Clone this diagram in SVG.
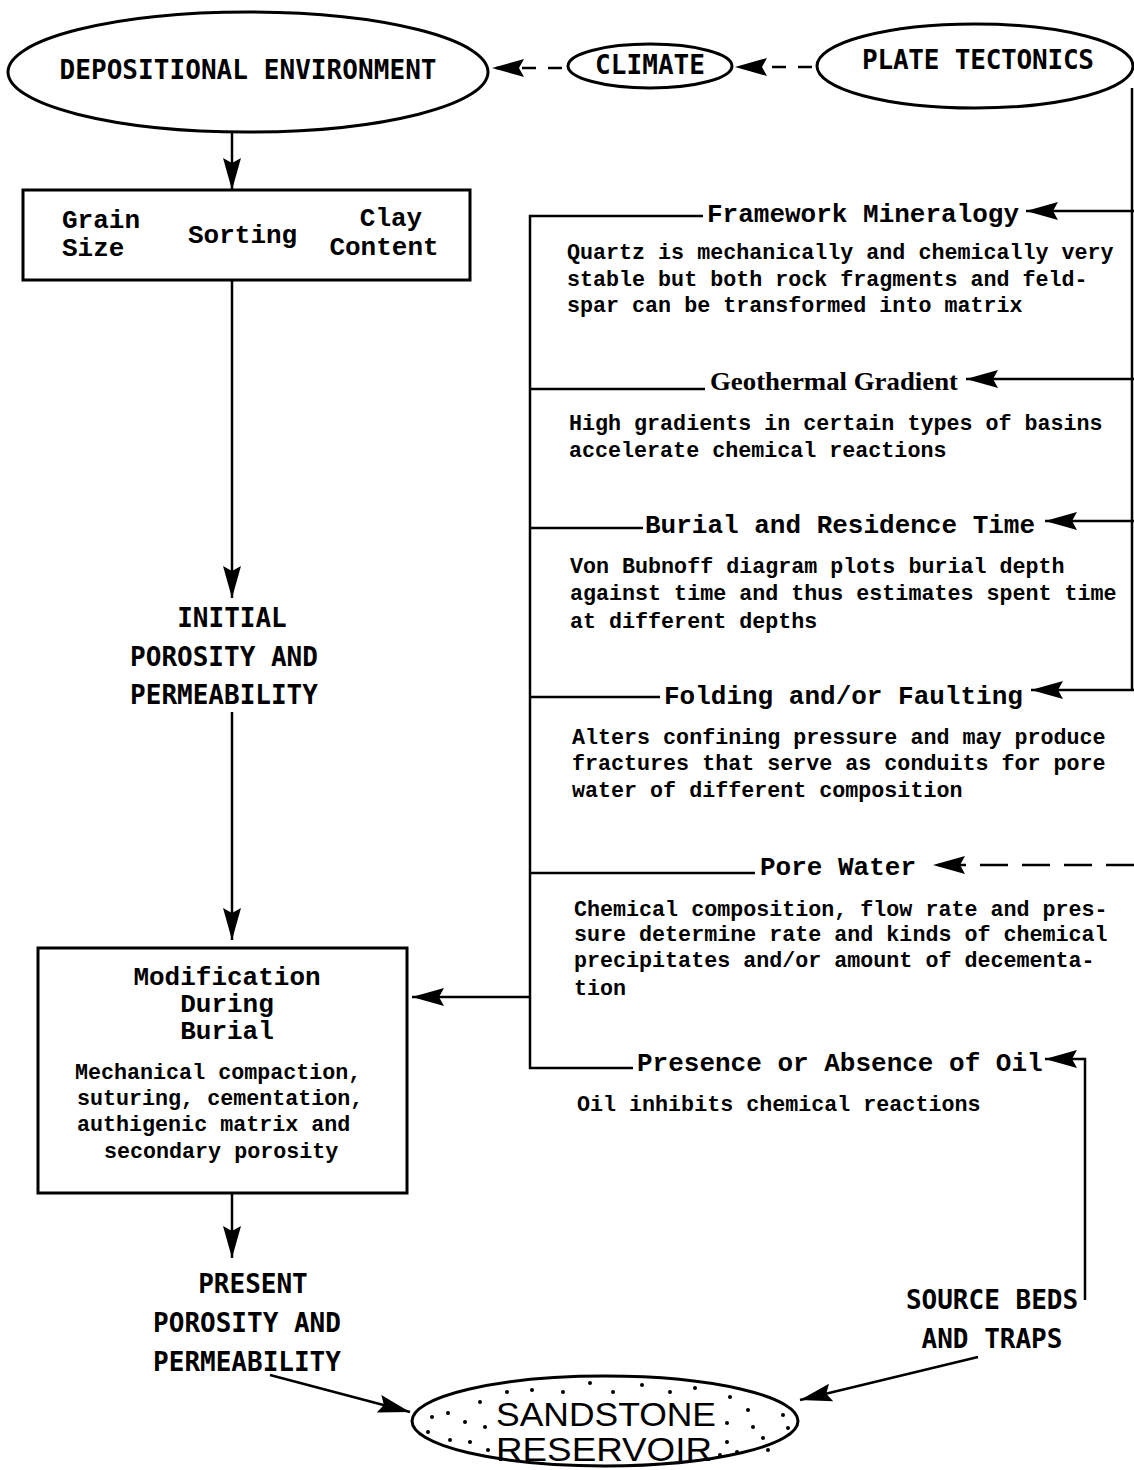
<svg xmlns="http://www.w3.org/2000/svg" width="1134" height="1470" viewBox="0 0 1134 1470">
<style>
.cap{font-family:"DejaVu Sans Mono","Liberation Mono",monospace;font-size:26px;font-weight:bold;fill:#000}
.tw{font-family:"Liberation Mono","Courier New",monospace;font-size:26px;font-weight:bold;fill:#000}
.bd{font-family:"Liberation Mono","Courier New",monospace;font-size:21.7px;font-weight:bold;fill:#000}
.shape{fill:none;stroke:#000;stroke-width:3}
.ln{fill:none;stroke:#000;stroke-width:2.5}
.dash{stroke-dasharray:14 12}
.dash2{stroke-dasharray:28 14}
.dot{fill:#000}
</style>
<defs>
<marker id="ah" markerUnits="userSpaceOnUse" markerWidth="34" markerHeight="22" refX="32" refY="11" orient="auto">
<path d="M0,2 L32,11 L0,20 L5,11 Z" fill="#000"/>
</marker>
</defs>
<rect width="1134" height="1470" fill="#fff"/>

<g id="connectors">
<line class="ln dash" x1="562" y1="68" x2="492" y2="68" marker-end="url(#ah)"/>
<line class="ln dash" x1="812" y1="67" x2="735" y2="67" marker-end="url(#ah)"/>
<line class="ln" x1="232" y1="133" x2="232" y2="190" marker-end="url(#ah)"/>
<line class="ln" x1="232" y1="281" x2="232" y2="598" marker-end="url(#ah)"/>
<line class="ln" x1="232" y1="712" x2="232" y2="940" marker-end="url(#ah)"/>
<line class="ln" x1="232" y1="1194" x2="232" y2="1258" marker-end="url(#ah)"/>
<line class="ln" x1="270" y1="1375" x2="410" y2="1412" marker-end="url(#ah)"/>
<line class="ln" x1="978" y1="1357" x2="800" y2="1400" marker-end="url(#ah)"/>
<polyline class="ln" points="1085,1300 1085,1059 1045,1059" marker-end="url(#ah)"/>
<polyline class="ln" points="1132,88 1132,690"/>
<line class="ln" x1="1134" y1="211" x2="1026" y2="211" marker-end="url(#ah)"/>
<line class="ln" x1="1134" y1="379" x2="966" y2="379" marker-end="url(#ah)"/>
<line class="ln" x1="1134" y1="521" x2="1045" y2="521" marker-end="url(#ah)"/>
<line class="ln" x1="1134" y1="690" x2="1031" y2="690" marker-end="url(#ah)"/>
<line class="ln dash2" x1="1134" y1="865" x2="933" y2="865" marker-end="url(#ah)"/>
<polyline class="ln" points="703,216 530,216 530,1068 633,1068"/>
<line class="ln" x1="530" y1="389" x2="705" y2="389"/>
<line class="ln" x1="530" y1="528" x2="643" y2="528"/>
<line class="ln" x1="530" y1="697" x2="660" y2="697"/>
<line class="ln" x1="530" y1="873" x2="755" y2="873"/>
<line class="ln" x1="530" y1="997" x2="412" y2="997" marker-end="url(#ah)"/>
</g>

<g id="depositional-environment">
<ellipse class="shape" cx="248" cy="72" rx="240" ry="60"/>
<text class="cap" x="248" y="79" text-anchor="middle" textLength="377">DEPOSITIONAL ENVIRONMENT</text>
</g>
<g id="climate">
<ellipse class="shape" cx="650" cy="66" rx="82" ry="22"/>
<text class="cap" x="650" y="74" text-anchor="middle" textLength="110">CLIMATE</text>
</g>
<g id="plate-tectonics">
<ellipse class="shape" cx="975" cy="66" rx="158" ry="42"/>
<text class="cap" x="978" y="69" text-anchor="middle" textLength="232">PLATE TECTONICS</text>
</g>

<g id="grain-properties">
<rect class="shape" x="23" y="190" width="447" height="90"/>
<text class="tw" x="62" y="228" font-size="25">Grain</text>
<text class="tw" x="62" y="256" font-size="25">Size</text>
<text class="tw" x="188" y="243">Sorting</text>
<text class="tw" x="391" y="226" text-anchor="middle" font-size="25">Clay</text>
<text class="tw" x="384" y="255" text-anchor="middle" font-size="25">Content</text>
</g>

<g id="initial-porosity">
<text class="cap" x="232" y="627" text-anchor="middle">INITIAL</text>
<text class="cap" x="224" y="666" text-anchor="middle">POROSITY AND</text>
<text class="cap" x="224" y="704" text-anchor="middle">PERMEABILITY</text>
</g>

<g id="modification-during-burial">
<rect class="shape" x="38" y="948" width="369" height="245"/>
<text class="tw" x="227" y="985" text-anchor="middle">Modification</text>
<text class="tw" x="227" y="1012" text-anchor="middle">During</text>
<text class="tw" x="227" y="1039" text-anchor="middle">Burial</text>
<text class="bd" x="75" y="1079">Mechanical compaction,</text>
<text class="bd" x="77" y="1105">suturing, cementation,</text>
<text class="bd" x="77" y="1131">authigenic matrix and</text>
<text class="bd" x="104" y="1158">secondary porosity</text>
</g>

<g id="present-porosity">
<text class="cap" x="253" y="1293" text-anchor="middle">PRESENT</text>
<text class="cap" x="247" y="1332" text-anchor="middle">POROSITY AND</text>
<text class="cap" x="247" y="1371" text-anchor="middle">PERMEABILITY</text>
</g>

<g id="framework-mineralogy">
<text class="tw" x="707" y="222">Framework Mineralogy</text>
<text class="bd" x="567" y="259">Quartz is mechanically and chemically very</text>
<text class="bd" x="567" y="286">stable but both rock fragments and feld-</text>
<text class="bd" x="567" y="312">spar can be transformed into matrix</text>
</g>
<g id="geothermal-gradient">
<text x="710" y="390" font-family="Liberation Serif,'Times New Roman',serif" font-size="26" font-weight="bold" textLength="248" lengthAdjust="spacingAndGlyphs">Geothermal Gradient</text>
<text class="bd" x="569" y="430">High gradients in certain types of basins</text>
<text class="bd" x="569" y="457">accelerate chemical reactions</text>
</g>
<g id="burial-residence-time">
<text class="tw" x="645" y="533">Burial and Residence Time</text>
<text class="bd" x="570" y="573">Von Bubnoff diagram plots burial depth</text>
<text class="bd" x="570" y="600">against time and thus estimates spent time</text>
<text class="bd" x="570" y="628">at different depths</text>
</g>
<g id="folding-faulting">
<text class="tw" x="664" y="704">Folding and/or Faulting</text>
<text class="bd" x="572" y="744">Alters confining pressure and may produce</text>
<text class="bd" x="572" y="770">fractures that serve as conduits for pore</text>
<text class="bd" x="572" y="797">water of different composition</text>
</g>
<g id="pore-water">
<text class="tw" x="760" y="875">Pore Water</text>
<text class="bd" x="574" y="916">Chemical composition, flow rate and pres-</text>
<text class="bd" x="574" y="941">sure determine rate and kinds of chemical</text>
<text class="bd" x="574" y="967">precipitates and/or amount of decementa-</text>
<text class="bd" x="574" y="995">tion</text>
</g>
<g id="oil">
<text class="tw" x="637" y="1071">Presence or Absence of Oil</text>
<text class="bd" x="577" y="1111">Oil inhibits chemical reactions</text>
</g>

<g id="source-beds-traps">
<text class="cap" x="992" y="1309" text-anchor="middle">SOURCE BEDS</text>
<text class="cap" x="992" y="1348" text-anchor="middle">AND TRAPS</text>
</g>

<g id="sandstone-reservoir">
<ellipse class="shape" cx="605" cy="1421" rx="193" ry="45"/>
<g class="dot">
<circle cx="432" cy="1417" r="2"/><circle cx="428" cy="1432" r="2"/><circle cx="448" cy="1413" r="2"/>
<circle cx="450" cy="1440" r="2"/><circle cx="465" cy="1422" r="2"/><circle cx="470" cy="1442" r="2"/>
<circle cx="480" cy="1402" r="2"/><circle cx="485" cy="1427" r="2"/><circle cx="488" cy="1450" r="2"/>
<circle cx="507" cy="1392" r="2"/><circle cx="532" cy="1390" r="2"/><circle cx="563" cy="1392" r="2"/>
<circle cx="590" cy="1383" r="2"/><circle cx="613" cy="1392" r="2"/><circle cx="642" cy="1385" r="2"/>
<circle cx="670" cy="1392" r="2"/><circle cx="695" cy="1388" r="2"/><circle cx="730" cy="1397" r="2"/>
<circle cx="727" cy="1423" r="2"/><circle cx="727" cy="1442" r="2"/><circle cx="748" cy="1410" r="2"/>
<circle cx="753" cy="1427" r="2"/><circle cx="763" cy="1438" r="2"/><circle cx="768" cy="1450" r="2"/>
<circle cx="783" cy="1415" r="2"/><circle cx="788" cy="1428" r="2"/><circle cx="737" cy="1452" r="2"/>
<circle cx="720" cy="1455" r="2"/>
</g>
<text x="606" y="1426" text-anchor="middle" font-family="Liberation Sans,Arial,sans-serif" font-size="33" textLength="220" lengthAdjust="spacingAndGlyphs">SANDSTONE</text>
<text x="604" y="1461" text-anchor="middle" font-family="Liberation Sans,Arial,sans-serif" font-size="33" textLength="216" lengthAdjust="spacingAndGlyphs">RESERVOIR</text>
</g>
</svg>
